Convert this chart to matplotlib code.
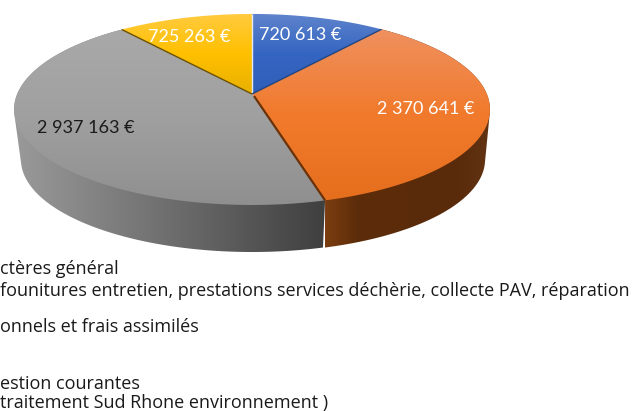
import numpy as np
import matplotlib
matplotlib.use('Agg')
import matplotlib.pyplot as plt
from matplotlib.colors import LinearSegmentedColormap
from matplotlib.patches import Polygon

# Values, clockwise from 12 o'clock
values = [720613, 2370641, 2937163, 725263]
value_labels = ['720 613 €', '2 370 641 €', '2 937 163 €', '725 263 €']
label_colors = ['white', 'white', '#1a1a1a', 'white']
label_pos = [(300, 35), (426, 109), (86, 128), (189, 37)]

top_grads = [
    ['#5f84cc', '#3565c2', '#2f5fb8'],
    ['#ef9160', '#f17a2c', '#e66f1e'],
    ['#a9a9a9', '#a0a0a0', '#8f8f8f'],
    ['#ffcb40', '#ffc000', '#e8b000'],
]
side_grads = {
    1: ['#7c3d10', '#5c2c0a', '#5c2c0a', '#5a2b0b', '#5a2b0b', '#633413'],
    2: ['#9a9a9a', '#6e6e6e', '#3f3f3f'],
}
edge_colors = ['#e4e9f5', '#23457f', '#6b3208', '#6b5200']

legend_lines = [
    'ctères général',
    'founitures entretien, prestations services déchèrie, collecte PAV, réparation',
    'onnels et frais assimilés',
    'estion courantes',
    'traitement Sud Rhone environnement )',
]
legend_y = [269, 291, 327, 384, 402.5]

# Perspective of the 3D pie: near side of the disc is drawn bigger
CX, K = 252, 0.162


def project(angle, a, b, y0, dx=0):
    u, v = np.sin(angle), np.cos(angle)
    w = 1 + K * v
    return np.column_stack([CX + dx + a * u / w, y0 - b * v / w])


def top_rim(angle):
    return project(angle, 234.8, 93, 94)


def bottom_rim(angle, dx=0):
    return project(angle, 228, 90, 144.6, dx)


def convex_hull(pts):
    pts = sorted(map(tuple, pts))

    def half(points):
        out = []
        for p in points:
            while len(out) > 1 and ((out[-1][0] - out[-2][0]) * (p[1] - out[-2][1])
                                    - (out[-1][1] - out[-2][1]) * (p[0] - out[-2][0])) <= 0:
                out.pop()
            out.append(p)
        return out[:-1]

    return np.array(half(pts) + half(pts[::-1]))


def fill_gradient(ax, pts, colors, horizontal=False, zorder=1):
    patch = Polygon(pts, closed=True, facecolor='none', edgecolor='none', zorder=zorder)
    ax.add_patch(patch)
    cmap = LinearSegmentedColormap.from_list('g', colors)
    x0, x1 = pts[:, 0].min(), pts[:, 0].max()
    y0, y1 = pts[:, 1].min(), pts[:, 1].max()
    ramp = np.linspace(0, 1, 256)
    ramp = ramp[None, :] if horizontal else ramp[:, None]
    im = ax.imshow(ramp, cmap=cmap, extent=(x0, x1, y1, y0), aspect='auto',
                   zorder=zorder, interpolation='bilinear')
    im.set_clip_path(patch)


fig = plt.figure(figsize=(6.32, 4.11), dpi=100)
ax = fig.add_axes([0, 0, 1, 1])

bounds = np.radians(np.cumsum([0] + values) / sum(values) * 360)

# Side walls, gray first so the orange one sits on top
for i, dx, z in [(2, 0, 1.0), (1, 2, 1.1)]:
    ang = np.linspace(bounds[i], bounds[i + 1], 200)
    pts = convex_hull(np.vstack([top_rim(ang), bottom_rim(ang, dx)]))
    fill_gradient(ax, pts, side_grads[i], horizontal=True, zorder=z)

# Top faces
for i in [2, 3, 0, 1]:
    ang = np.linspace(bounds[i], bounds[i + 1], 200)
    apex = np.array([[CX, 94.0]])
    pts = np.vstack([apex, top_rim(ang)])
    fill_gradient(ax, pts, top_grads[i], zorder=2 + i / 10)

# Thin shaded edges between the slices
for i in range(4):
    rim = top_rim(np.array([bounds[i]]))[0]
    ax.plot([CX + (2 if i == 2 else 0), rim[0]], [94 + (2 if i == 2 else 0), rim[1]],
            color=edge_colors[i], lw=1.6 if i == 2 else 1.0, zorder=3,
            solid_capstyle='butt')

for txt, col, (x, y) in zip(value_labels, label_colors, label_pos):
    ax.text(x, y, txt, color=col, fontsize=13, family='Lato', ha='center',
            va='center', zorder=4)

for txt, y in zip(legend_lines, legend_y):
    ax.text(0, y, txt, color='#1a1a1a', fontsize=13, family='Open Sans', ha='left',
            va='center', zorder=4)

ax.set_xlim(0, 632)
ax.set_ylim(411, 0)
ax.axis('off')
fig.savefig('out.png', dpi=100)
